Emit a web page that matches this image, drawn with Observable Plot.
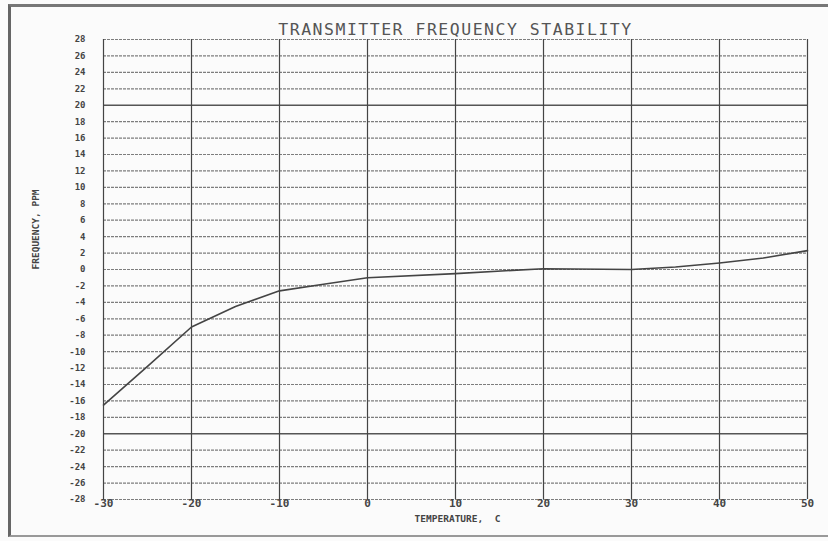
<!DOCTYPE html>
<html>
<head>
<meta charset="utf-8">
<script src="https://cdn.jsdelivr.net/npm/d3@7"></script>
<script src="https://cdn.jsdelivr.net/npm/@observablehq/plot@0.6"></script>
<style>
  html, body { margin: 0; padding: 0; background: #fbfbfb; }
  #wrap { position: relative; width: 828px; height: 541px; overflow: hidden; }
  #frame { position: absolute; left: 8px; top: 4px; width: 830px; height: 533px;
           border-top: 3px solid #777; border-left: 3px solid #666; border-bottom: 2px solid #999; box-sizing: border-box; }
</style>
</head>
<body>
<div id="wrap"><div id="frame"></div></div>
<script>
const titleText = "TRANSMITTER FREQUENCY STABILITY";
const xLabel = "TEMPERATURE,  C";
const yLabel = "FREQUENCY, PPM";
const temps = [-30, -25, -20, -15, -10, -5, 0, 10, 20, 30, 35, 40, 45, 50];
const freq  = [-16.5, -11.8, -7.0, -4.5, -2.6, -1.8, -1.0, -0.5, 0.1, 0.0, 0.3, 0.8, 1.4, 2.3];
const xTicks = [-30, -20, -10, 0, 10, 20, 30, 40, 50];
const yTicks = d3.range(-28, 29, 2);
const heavyY = [20, -20];

const data = temps.map((t, i) => ({t, f: freq[i]}));
const lightY = yTicks.filter(v => !heavyY.includes(v));
const mono = "'DejaVu Sans Mono', 'Liberation Mono', monospace";

const chart = Plot.plot({
  width: 828,
  height: 541,
  marginLeft: 103,
  marginRight: 21,
  marginTop: 39,
  marginBottom: 42,
  style: {background: "transparent", fontFamily: mono, color: "#444"},
  x: {domain: [-30, 50], ticks: xTicks, tickSize: 0, tickPadding: 1, tickFormat: d => String(d), label: null},
  y: {domain: [-28, 28], ticks: yTicks, tickSize: 0, tickPadding: 18, tickFormat: d => String(d), label: null},
  marks: [
    Plot.ruleY(lightY, {stroke: "#666", strokeWidth: 1.2, strokeDasharray: "3,1", strokeOpacity: 0.85}),
    Plot.ruleY(heavyY, {stroke: "#555", strokeWidth: 1.6}),
    Plot.ruleX(xTicks, {stroke: "#444", strokeWidth: 1.2}),
    Plot.axisX({ticks: xTicks, tickSize: 0, tickPadding: 0, fontSize: 11, fontWeight: "bold", tickFormat: d => String(d), label: null}),
    Plot.axisY({ticks: yTicks, tickSize: 0, tickPadding: 18, fontSize: 9, fontWeight: "bold", tickFormat: d => String(d), label: null}),
    Plot.line(data, {x: "t", y: "f", stroke: "#444", strokeWidth: 1.6}),
    Plot.text([titleText], {frameAnchor: "top", dy: -5, fontSize: 16.5, fontFamily: mono, fill: "#555", text: d => d, lineAnchor: "bottom"}),
    Plot.text([xLabel], {frameAnchor: "bottom", dy: 22, fontSize: 9.5, fontWeight: "bold", fontFamily: mono, fill: "#444", text: d => d, dx: 2}),
    Plot.text([yLabel], {frameAnchor: "left", dx: -68, rotate: -90, fontSize: 9.5, fontWeight: "bold", fontFamily: mono, fill: "#444", text: d => d})
  ]
});
chart.querySelectorAll("text").forEach(t => { if (t.textContent === titleText) t.setAttribute("letter-spacing", "1.5"); });
document.getElementById("wrap").appendChild(chart);
</script>
</body>
</html>
